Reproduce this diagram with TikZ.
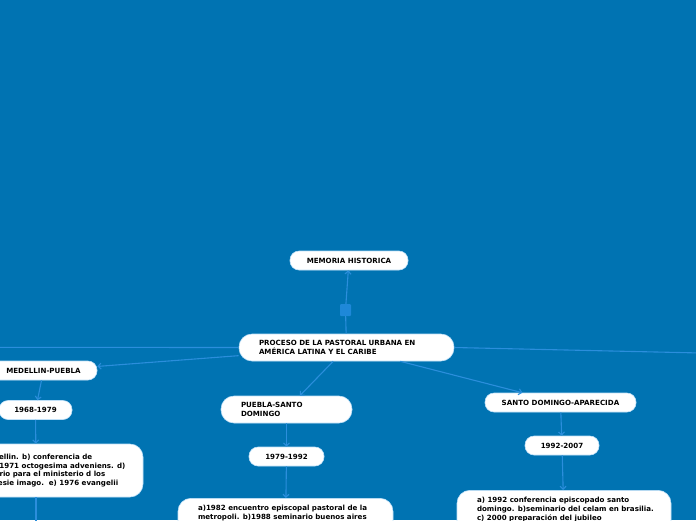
\documentclass[tikz,border=0pt]{standalone}
\usepackage{fontspec}
\setmainfont{DejaVu Sans}
\usetikzlibrary{arrows.meta}
\definecolor{bgc}{HTML}{0073B2}
\definecolor{linec}{HTML}{2B8EDC}
\definecolor{sqc}{HTML}{1E88D8}
\definecolor{edgec}{HTML}{BFE0F8}
\begin{document}
\begin{tikzpicture}[x=1pt,y=-1pt,
  every node/.style={font=\fontsize{7.1}{9}\selectfont\bfseries, text=black},
  pill/.style={fill=white, draw=edgec, line width=0.6pt, rounded corners=9pt,
    minimum height=19pt, inner sep=0pt, align=center},
  bigbox/.style={fill=white, draw=edgec, line width=0.6pt, rounded corners=13pt,
    inner xsep=20pt, inner ysep=0pt},
  conn/.style={draw=linec, line width=1.1pt},
  arr/.style={conn, -{Straight Barb[length=3pt,width=6pt]}},
  sq/.style={fill=sqc, draw=none, minimum width=11pt, minimum height=12pt, inner sep=0pt, rounded corners=1pt}
]
\useasboundingbox (0,0) rectangle (696,520);
\fill[bgc] (0,0) rectangle (696,520);
\clip (0,0) rectangle (696,520);

% nodes
\node[pill, minimum width=118pt] (mem) at (349,260.5) {MEMORIA HISTORICA};
\node[sq] (sq) at (345.5,310) {};
\node[bigbox, minimum height=27pt, text width=175pt, align=left] (cen) at (346.5,347.5)
  {PROCESO DE LA PASTORAL URBANA EN\\AMÉRICA LATINA Y EL CARIBE};

\node[pill, minimum width=107pt] (med) at (43.5,370.5) {MEDELLIN-PUEBLA};
\node[pill, minimum width=73pt] (y68) at (35.5,410) {1968-1979};
\node[bigbox, minimum height=53pt] (lbig) at (36,470.5)
  {\parbox[c]{174pt}{\raggedright\fontsize{7.1}{8.8}\selectfont
   \mbox{a) 1968 medellin. b) conferencia de}\\
   \mbox{medellin. c) 1971 octogesima adveniens. d)}\\
   \mbox{1973 directorio para el ministerio d los}\\
   \mbox{obispos ecclesie imago.\ \ e) 1976 evangelii}}};

\node[bigbox, minimum height=27pt, text width=91pt, align=left] (pue) at (286.5,409.5)
  {PUEBLA-SANTO\\DOMINGO};
\node[pill, minimum width=75pt] (y79) at (286.5,456.5) {1979-1992};
\node[bigbox, anchor=north, inner ysep=6.5pt] (pbig) at (285.5,498)
  {\parbox[t][50pt][t]{175pt}{\raggedright
   \mbox{a)1982 encuentro episcopal pastoral de la}\\
   \mbox{metropoli. b)1988 seminario buenos aires}}};

\node[pill, minimum width=151pt] (sda) at (560.5,402.5) {SANTO DOMINGO-APARECIDA};
\node[pill, minimum width=74pt] (y92) at (562,445.5) {1992-2007};
\node[bigbox, anchor=north, inner ysep=7pt] (sbig) at (564,490)
  {\parbox[t][50pt][t]{174pt}{\raggedright
   \mbox{a) 1992 conferencia episcopado santo}\\
   \mbox{domingo. b)seminario del celam en brasilia.}\\
   \mbox{c) 2000 preparación del jubileo}}};

\coordinate (lout) at (-5,347.3);
\coordinate (rout) at (701,353);
\coordinate (bout) at (36,530);

% connectors
\draw[conn] (cen) -- (sq);
\draw[arr] (sq) -- (mem);
\draw[conn] (cen.west) -- (lout);
\draw[conn] (cen.east) -- (rout);
\draw[arr] (cen) -- (med);
\draw[arr] (med) -- (y68);
\draw[arr] (y68) -- (lbig);
\draw[conn] (lbig.south) -- (bout);
\draw[arr] (cen) -- (pue);
\draw[arr] (pue) -- (y79);
\draw[arr] (y79) -- (pbig);
\draw[arr] (cen) -- (sda);
\draw[arr] (sda) -- (y92);
\draw[arr] (y92) -- (sbig);
\end{tikzpicture}
\end{document}
